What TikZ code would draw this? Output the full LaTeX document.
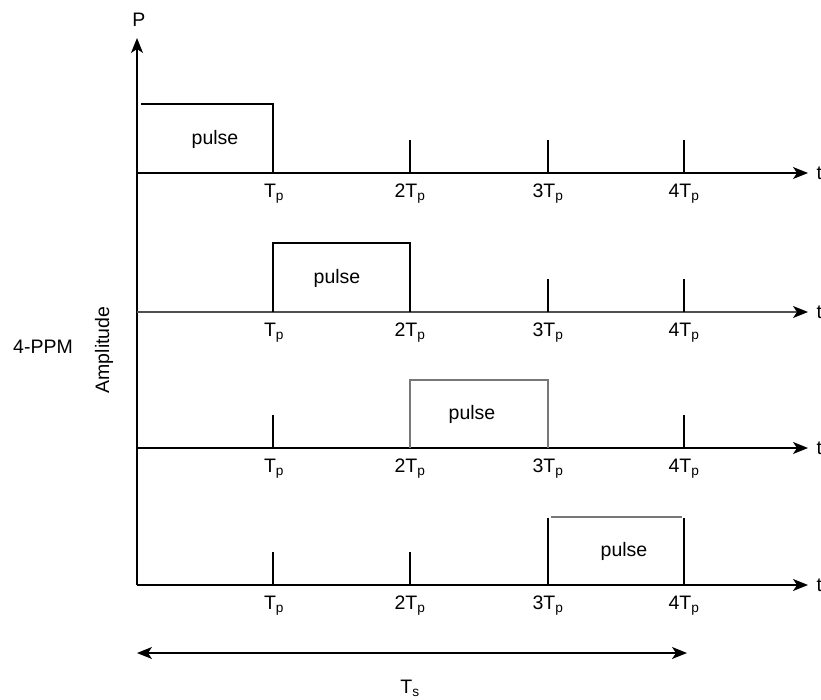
\documentclass[tikz,border=0pt]{standalone}
\usepackage{fontspec}
\setmainfont{Liberation Sans}
\usetikzlibrary{arrows.meta}
\definecolor{gline}{RGB}{120,120,120}
\definecolor{dline}{RGB}{80,80,80}
\begin{document}
\begin{tikzpicture}[x=1pt,y=-1pt,line width=1.3pt,
  ax/.style={-{Stealth[length=15pt,width=12pt,inset=4pt,color=black]}},
  dax/.style={{Stealth[length=15pt,width=12pt,inset=4pt]}-{Stealth[length=15pt,width=12pt,inset=4pt]}},
  lbl/.style={font=\fontsize{19.5}{23}\selectfont,inner sep=0pt},
  tick/.style={line width=1.3pt},
  pulsebox/.style={line width=1.3pt}]
\useasboundingbox (0,0) rectangle (821,699);
% vertical axis
\coordinate (o) at (137,585);
\coordinate (ptop) at (137,38);
\draw[ax] (o) -- (ptop);
\node[lbl] (P) at (139,20) {P};
% side labels
\node[lbl] (ppm) at (43,347) {4-PPM};
\node[lbl,rotate=90] (amp) at (104,350) {Amplitude};
% baselines
\foreach \y/\c [count=\i] in {173/black,312/dline,448/black,585/black}{
  \coordinate (b\i s) at (137,\y);
  \coordinate (b\i e) at (808,\y);
  \draw[ax,draw=\c] (b\i s) -- (b\i e);
  \node[lbl,anchor=west] (t\i) at (816,\y) {t};
  \node[lbl] (l\i a) at (274,\y+21) {T\textsubscript{p}};
  \node[lbl] (l\i b) at (410,\y+21) {2T\textsubscript{p}};
  \node[lbl] (l\i c) at (548,\y+21) {3T\textsubscript{p}};
  \node[lbl] (l\i d) at (684,\y+21) {4T\textsubscript{p}};
}
% ticks
\foreach \x/\y in {410/173,548/173,684/173,548/312,684/312,273/448,684/448,273/585,410/585}{
  \draw[tick] (\x,\y) -- (\x,\y-33);
}
% pulses
\draw[pulsebox] (141,104) -- (273,104) -- (273,173);
\node[lbl] (p1) at (215,139) {pulse};
\draw[pulsebox] (273,312) -- (273,243) -- (410,243) -- (410,312);
\node[lbl] (p2) at (337,278) {pulse};
\draw[pulsebox,draw=gline] (410,448) -- (410,380) -- (548,380) -- (548,448);
\node[lbl] (p3) at (472,414) {pulse};
\draw[pulsebox] (548,585) -- (548,518);
\draw[pulsebox] (684,518) -- (684,585);
\draw[pulsebox,draw=gline] (551,517) -- (682,517);
\node[lbl] (p4) at (624,551) {pulse};
% symbol period
\coordinate (tsl) at (137,653);
\coordinate (tsr) at (687,653);
\draw[dax] (tsl) -- (tsr);
\node[lbl] (ts) at (410,688) {T\textsubscript{s}};
\end{tikzpicture}
\end{document}
